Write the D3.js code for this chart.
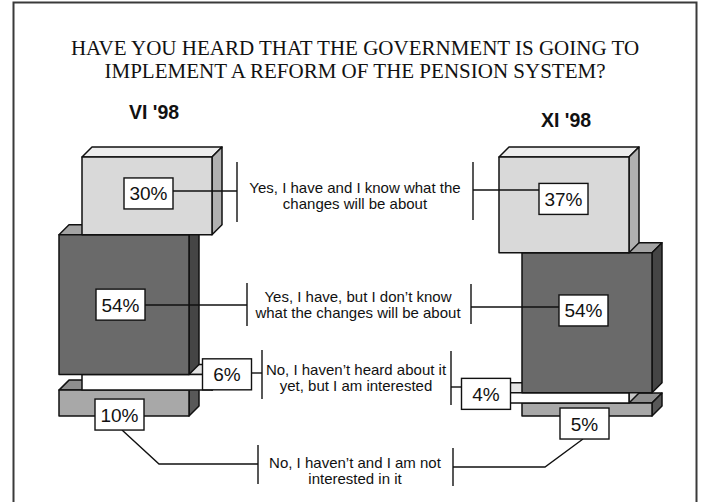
<!DOCTYPE html>
<html>
<head>
<meta charset="utf-8">
<script src="https://cdn.jsdelivr.net/npm/d3@7"></script>
<style>
  html, body { margin: 0; padding: 0; background: #fff; }
  svg { display: block; }
</style>
</head>
<body>
<svg id="chart" width="704" height="502"></svg>
<script>
// ---------- DATA ----------
const titleLines = [
  "HAVE YOU HEARD THAT THE GOVERNMENT IS GOING TO",
  "IMPLEMENT A REFORM OF THE PENSION SYSTEM?"
];
const periods = ["VI '98", "XI '98"];
const categoryLines = [
  ["Yes, I have and I know what the", "changes will be about"],
  ["Yes, I have, but I don\u2019t know", "what the changes will be about"],
  ["No, I haven\u2019t heard about it", "yet, but I am interested"],
  ["No, I haven\u2019t and I am not", "interested in it"]
];
const valuesVI = [30, 54, 6, 10];
const valuesXI = [37, 54, 4, 5];
const seriesValues = [valuesVI, valuesXI];

// ---------- LAYOUT / STYLE ----------
const W = 704, H = 502;
const svg = d3.select("#chart");
const depth = 10;
const barW = 130;
const shift = 23;           // lateral shift of alternate segments toward center
const fills = [
  { front: "#d9d9d9", top: "#ededed", side: "#b0b0b0" },
  { front: "#6a6a6a", top: "#a3a3a3", side: "#454545" },
  { front: "#ffffff", top: "#e4e4e4", side: "#c8c8c8" },
  { front: "#a8a8a8", top: "#8e8e8e", side: "#585858" }
];
// label box offsets from segment front centre
const boxOffsets = [
  [[1.5, -2.4], [-3.5, 0], [80, -8], [-4.5, 11.5]],
  [[-0.5, -6], [-3.5, -12.3], [-78, -4], [-2.5, 14]]
];
const boxW = 49, boxH = 31;
const catLayout = [
  { tx: 355, base: 193, lb: [237, 162, 222], rb: [473, 162, 220], ly: 191, ry: 190 },
  { tx: 358, base: 302, lb: [247, 283, 326], rb: [471, 284, 324], ly: 305, ry: 307 },
  { tx: 356, base: 375, lb: [262, 350, 399], rb: [451, 351, 405], ly: 373, ry: 387 },
  { tx: 355, base: 468, lb: [258, 445, 484], rb: [453, 448, 486], ly: 464, ry: 467, elbow: [159, 545] }
];

// ---------- SCALES ----------
const y = d3.scaleLinear().domain([0, 100]).range([416, 157]);
const x = d3.scalePoint().domain(periods).range([124, 587]);

// frame
svg.append("rect").attr("x", 13.5).attr("y", 2.5).attr("width", 683).attr("height", 520)
  .attr("fill", "#fff").attr("stroke", "#3a3a3a").attr("stroke-width", 2);

// title
svg.append("g").selectAll("text").data(titleLines).join("text")
  .attr("x", 355).attr("y", (d, i) => 55 + i * 22.5)
  .attr("text-anchor", "middle")
  .attr("font-family", "'Liberation Serif', 'Times New Roman', serif")
  .attr("font-size", 21).attr("fill", "#111")
  .text(d => d);

// period labels
const periodPos = [[154, 119], [566, 127]];
svg.append("g").selectAll("text").data(periods).join("text")
  .attr("x", (d, i) => periodPos[i][0]).attr("y", (d, i) => periodPos[i][1])
  .attr("text-anchor", "middle")
  .attr("font-family", "'Liberation Sans', Arial, sans-serif")
  .attr("font-weight", "bold").attr("font-size", 19.5).attr("fill", "#111")
  .text(d => d);

// build segments
const segs = [];
periods.forEach((p, pi) => {
  const vals = seriesValues[pi];
  const dir = pi === 0 ? 1 : -1;
  vals.forEach((v, ci) => {
    let below = 0;
    for (let k = ci + 1; k < vals.length; k++) below += vals[k];
    const cx = x(p) + (ci % 2 === 0 ? dir * shift : 0);
    segs.push({ pi, ci, v, cx, y0: y(below), y1: y(below + v) });
  });
});

const barsG = svg.append("g");
periods.forEach((p, pi) => {
  const list = segs.filter(s => s.pi === pi).sort((a, b) => b.ci - a.ci);
  list.forEach(s => {
    const x0 = s.cx - barW / 2, x1 = s.cx + barW / 2;
    const g = barsG.append("g");
    const f = fills[s.ci];
    const st = { stroke: "#111", "stroke-width": 1.5, "stroke-linejoin": "round" };
    const top = [[x0, s.y1], [x0 + depth, s.y1 - depth], [x1 + depth, s.y1 - depth], [x1, s.y1]];
    const side = [[x1, s.y1], [x1 + depth, s.y1 - depth], [x1 + depth, s.y0 - depth], [x1, s.y0]];
    [[top, f.top], [side, f.side]].forEach(([pts, col]) => {
      const pth = g.append("path").attr("d", "M" + pts.join("L") + "Z").attr("fill", col);
      Object.entries(st).forEach(([k, v]) => pth.attr(k, v));
    });
    const r = g.append("rect").attr("x", x0).attr("y", s.y1).attr("width", barW).attr("height", s.y0 - s.y1).attr("fill", f.front);
    Object.entries(st).forEach(([k, v]) => r.attr(k, v));
  });
});

// leader lines and category text
const lineG = svg.append("g").attr("stroke", "#111").attr("stroke-width", 1.4).attr("fill", "none");
function boxOf(s) {
  const o = boxOffsets[s.pi][s.ci];
  const cx = s.cx + o[0], cy = (s.y0 + s.y1) / 2 + o[1];
  return { cx, cy, x: cx - boxW / 2, y: cy - boxH / 2 };
}
catLayout.forEach((L, ci) => {
  const sL = segs.find(s => s.pi === 0 && s.ci === ci);
  const sR = segs.find(s => s.pi === 1 && s.ci === ci);
  const bL = boxOf(sL), bR = boxOf(sR);
  lineG.append("line").attr("x1", L.lb[0]).attr("x2", L.lb[0]).attr("y1", L.lb[1]).attr("y2", L.lb[2]);
  lineG.append("line").attr("x1", L.rb[0]).attr("x2", L.rb[0]).attr("y1", L.rb[1]).attr("y2", L.rb[2]);
  if (L.elbow) {
    lineG.append("path").attr("d", d3.line()([[bL.cx + 2.5, bL.y + boxH], [L.elbow[0], L.ly], [L.lb[0], L.ly]]));
    lineG.append("path").attr("d", d3.line()([[bR.cx - 1.5, bR.y + boxH], [L.elbow[1], L.ry], [L.rb[0], L.ry]]));
  } else {
    lineG.append("line").attr("x1", bL.x + boxW).attr("x2", L.lb[0]).attr("y1", L.ly).attr("y2", L.ly);
    lineG.append("line").attr("x1", L.rb[0]).attr("x2", bR.x).attr("y1", L.ry).attr("y2", L.ry);
  }
  svg.append("g").selectAll("text").data(categoryLines[ci]).join("text")
    .attr("x", L.tx).attr("y", (d, i) => L.base + i * 16)
    .attr("text-anchor", "middle")
    .attr("font-family", "'Liberation Sans', Arial, sans-serif")
    .attr("font-size", 15).attr("fill", "#111")
    .text(d => d);
});

// value boxes
const boxG = svg.append("g");
segs.forEach(s => {
  const b = boxOf(s);
  boxG.append("rect").attr("x", b.x).attr("y", b.y).attr("width", boxW).attr("height", boxH)
    .attr("fill", "#fff").attr("stroke", "#111").attr("stroke-width", 1.4);
  boxG.append("text").attr("x", b.cx).attr("y", b.cy + 7)
    .attr("text-anchor", "middle")
    .attr("font-family", "'Liberation Sans', Arial, sans-serif")
    .attr("font-size", 19).attr("fill", "#111")
    .text(s.v + "%");
});
</script>
</body>
</html>
